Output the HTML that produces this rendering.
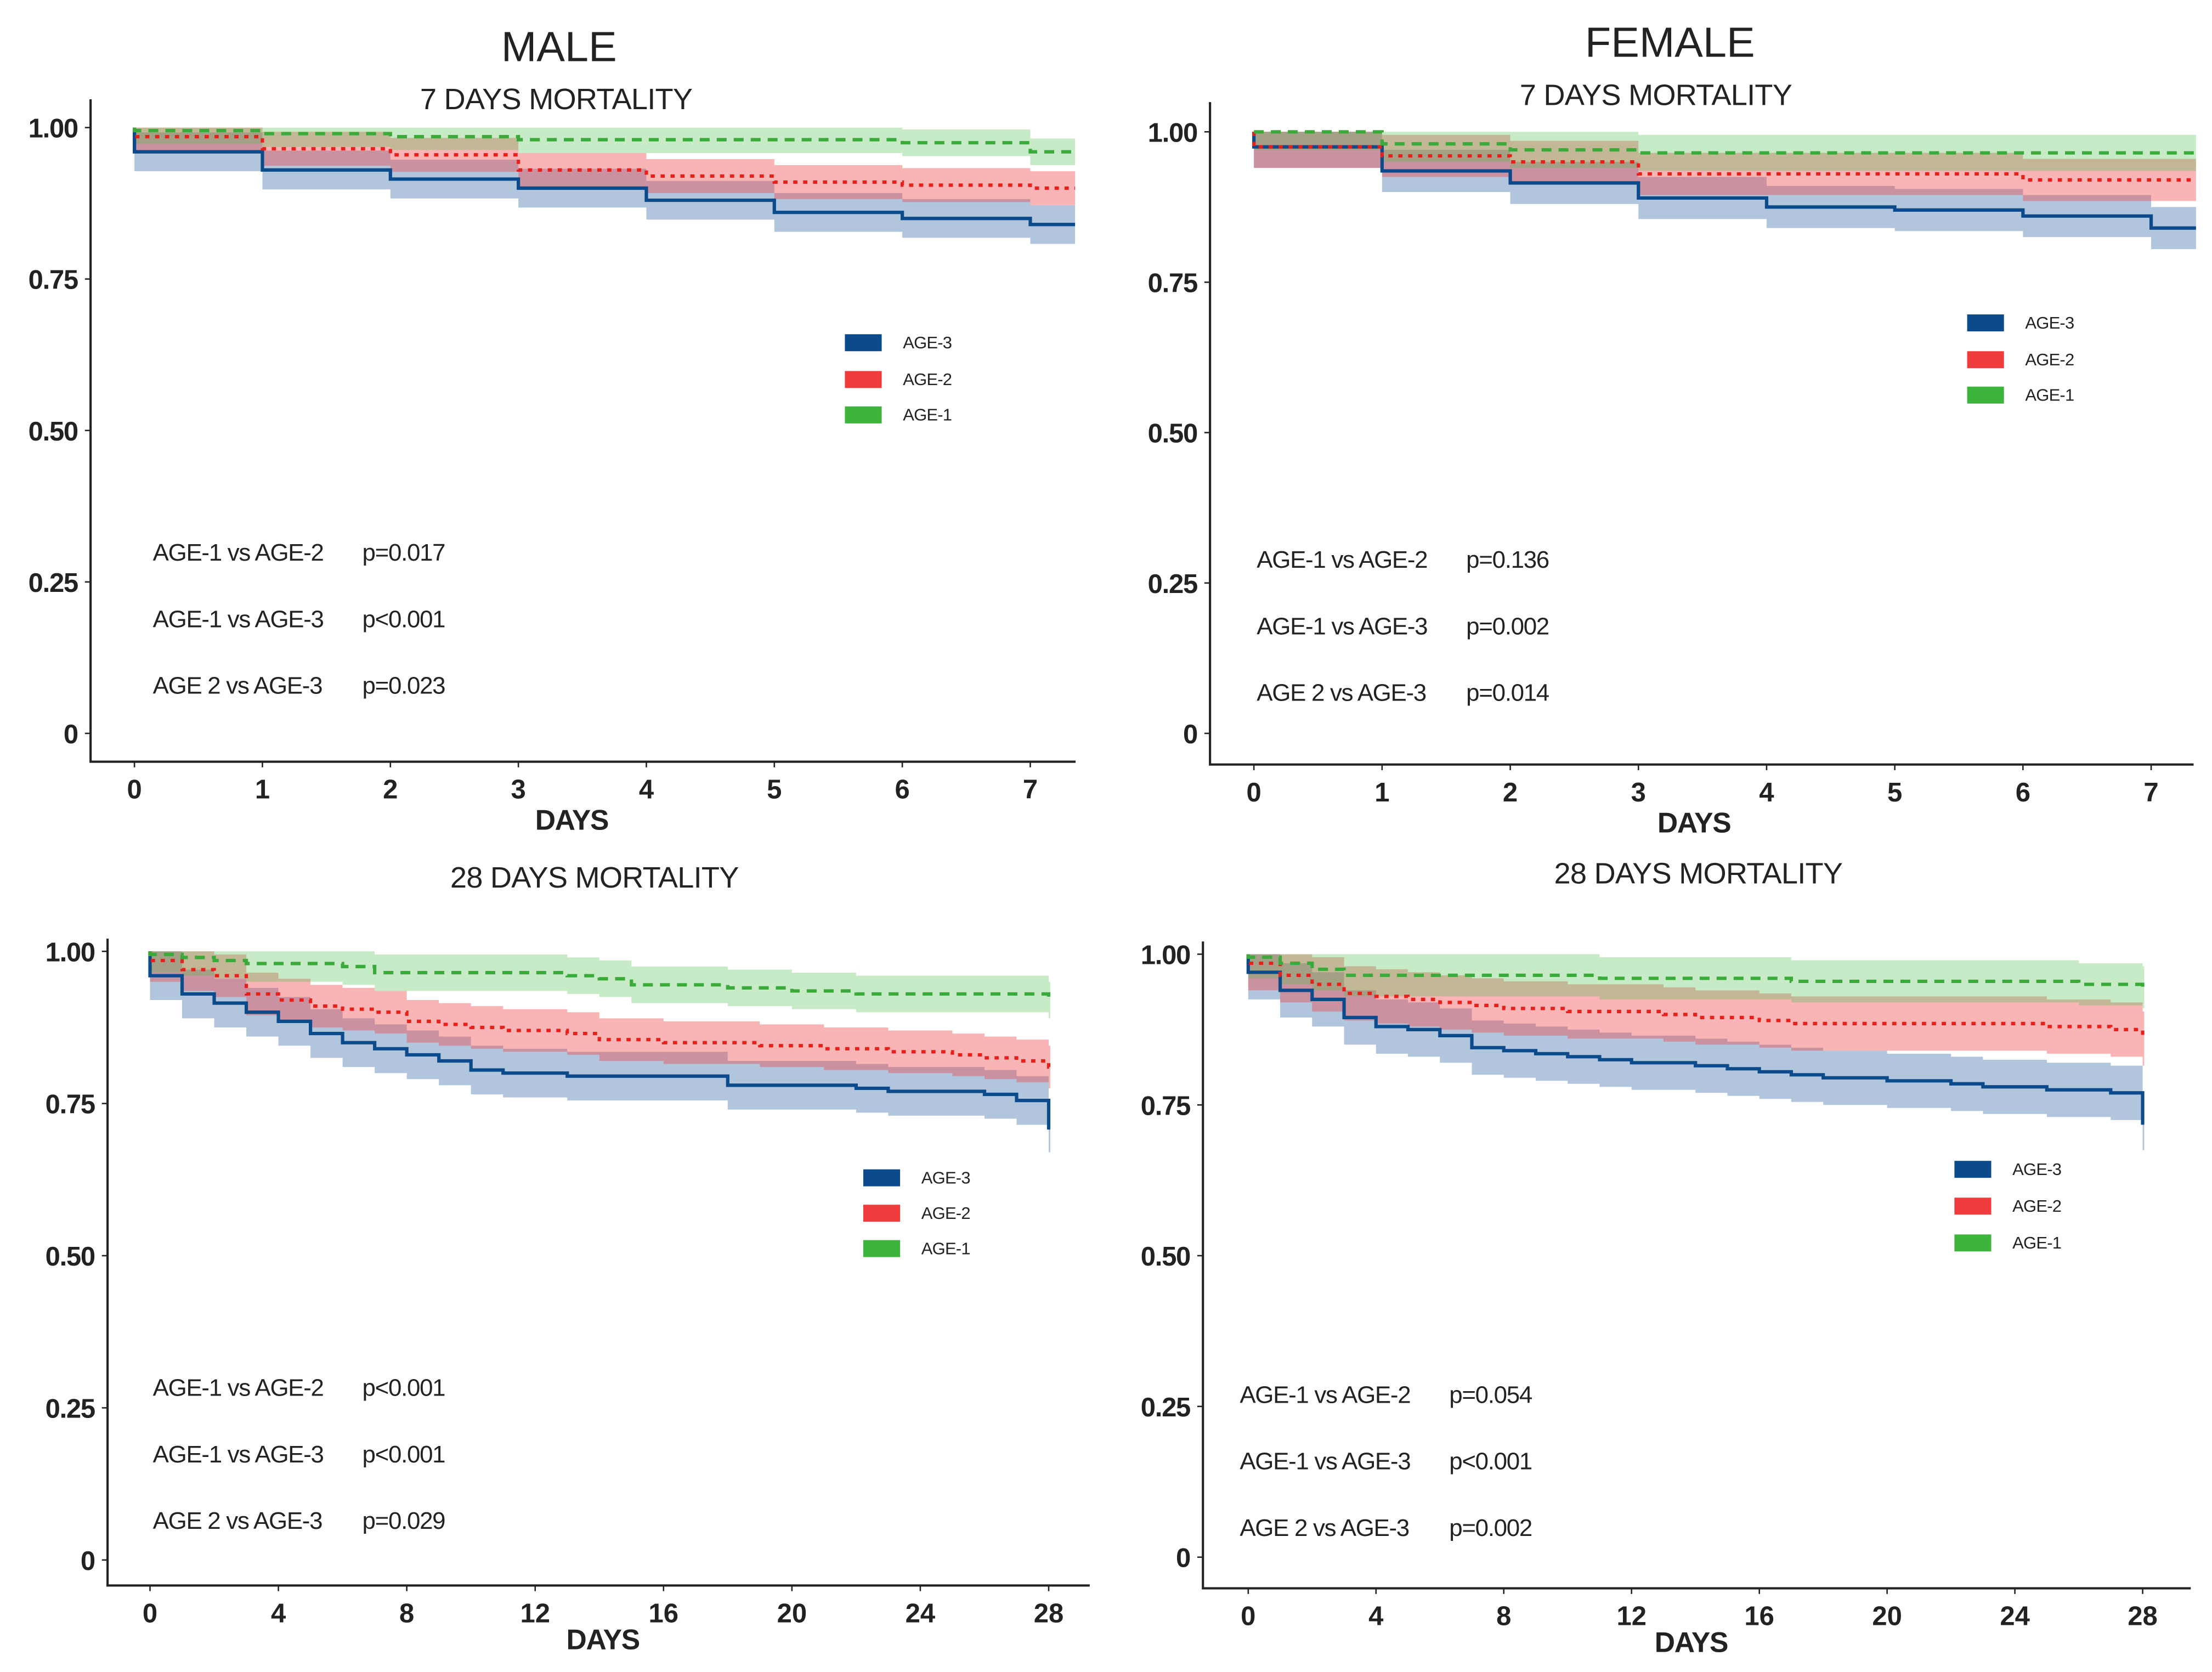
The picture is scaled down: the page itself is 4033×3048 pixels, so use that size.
<!DOCTYPE html>
<html><head><meta charset="utf-8"><style>
html,body{margin:0;padding:0;background:#fff}
svg{display:block}
text{font-family:"Liberation Sans Narrow","Liberation Sans",sans-serif;fill:#222}
</style></head><body>
<svg id="chart" width="4033" height="3048" viewBox="0 0 1563 1181" xmlns="http://www.w3.org/2000/svg">
<text x="395" y="43" font-size="30" text-anchor="middle" font-family="Liberation Sans">MALE</text>
<text x="1180" y="40" font-size="30" text-anchor="middle" font-family="Liberation Sans">FEMALE</text>
</svg>
<script>
// ---- data ----
const days7 = [0,1,2,3,4,5,6,7];
const days28 = [0,1,2,3,4,5,6,7,8,9,10,11,12,13,14,15,16,17,18,19,20,21,22,23,24,25,26,27,28];
const yTicks = [1.00,0.75,0.50,0.25,0];
const yTickLabels = ["1.00","0.75","0.50","0.25","0"];
const xTicks7 = [0,1,2,3,4,5,6,7];
const xTicks28 = [0,4,8,12,16,20,24,28];
const groups = ["AGE-3","AGE-2","AGE-1"];

const m7_age3 = [0.96,0.93,0.915,0.90,0.88,0.86,0.85,0.84];
const m7_age2 = [0.985,0.965,0.955,0.93,0.92,0.91,0.905,0.90];
const m7_age1 = [0.995,0.99,0.985,0.98,0.98,0.98,0.975,0.96];
const m7_ci = [0.032,0.028,0.022];

const f7_age3 = [0.975,0.935,0.915,0.89,0.875,0.87,0.86,0.84];
const f7_age2 = [0.975,0.96,0.95,0.93,0.93,0.93,0.92,0.92];
const f7_age1 = [1.0,0.98,0.97,0.965,0.965,0.965,0.965,0.965];
const f7_ci = [0.035,0.035,0.03];

const m28_age3 = [0.96,0.93,0.915,0.90,0.885,0.865,0.85,0.84,0.83,0.82,0.805,0.80,0.80,0.795,0.795,0.795,0.795,0.795,0.78,0.78,0.78,0.78,0.775,0.77,0.77,0.77,0.765,0.755,0.71];
const m28_age2 = [0.985,0.97,0.96,0.93,0.92,0.91,0.905,0.90,0.885,0.88,0.875,0.87,0.87,0.865,0.855,0.855,0.85,0.85,0.85,0.845,0.845,0.84,0.84,0.835,0.835,0.83,0.825,0.82,0.81];
const m28_age1 = [0.995,0.99,0.985,0.98,0.98,0.98,0.975,0.965,0.965,0.965,0.965,0.965,0.965,0.96,0.955,0.945,0.945,0.945,0.94,0.94,0.935,0.935,0.93,0.93,0.93,0.93,0.93,0.93,0.92];
const m28_ci = [0.04,0.035,0.03];

const f28_age3 = [0.97,0.94,0.925,0.895,0.88,0.875,0.865,0.845,0.84,0.835,0.83,0.825,0.82,0.82,0.815,0.81,0.805,0.80,0.795,0.795,0.79,0.79,0.785,0.78,0.78,0.775,0.775,0.77,0.72];
const f28_age2 = [0.985,0.965,0.95,0.935,0.93,0.925,0.92,0.915,0.91,0.91,0.905,0.905,0.905,0.90,0.895,0.895,0.89,0.885,0.885,0.885,0.885,0.885,0.885,0.885,0.885,0.88,0.88,0.875,0.86];
const f28_age1 = [0.995,0.985,0.975,0.965,0.965,0.965,0.965,0.965,0.965,0.965,0.965,0.96,0.96,0.96,0.96,0.96,0.96,0.955,0.955,0.955,0.955,0.955,0.955,0.955,0.955,0.955,0.95,0.95,0.945];
const f28_ci = [0.045,0.045,0.035];

const pm7 = ["p=0.017","p<0.001","p=0.023"];
const pf7 = ["p=0.136","p=0.002","p=0.014"];
const pm28 = ["p<0.001","p<0.001","p=0.029"];
const pf28 = ["p=0.054","p<0.001","p=0.002"];
const compLabels = ["AGE-1 vs AGE-2","AGE-1 vs AGE-3","AGE 2 vs AGE-3"];

// ---- drawing ----
const svg = document.getElementById('chart');
const NS = 'http://www.w3.org/2000/svg';
function mk(tag, attrs, parent){ const e=document.createElementNS(NS,tag); for(const k in attrs) e.setAttribute(k,attrs[k]); (parent||svg).appendChild(e); return e; }

const lineCol=['#0b4a8b','#e8201c','#3aaa3a'];
const bandCol=['rgba(60,110,170,0.40)','rgba(240,70,70,0.40)','rgba(80,190,80,0.32)'];
const legCol=['#0b4a8b','#ef3b3b','#3db53d'];
const dash=['none','3,4','7,5'];

function panel(cfg){
  const g=mk('g',{});
  
  
  const maxX=cfg.xt[cfg.xt.length-1];
  const sx=v=>cfg.x0+(cfg.x1-cfg.x0)*v/maxX;
  const sy=v=>cfg.y0-(cfg.y0-cfg.y1)*v;
  const T=cfg.t;
  const endX=i=>sx(i<T.length-1?T[i+1]:T[i]+cfg.ext);
  const t=mk('text',{x:cfg.tx,y:cfg.ty,'font-size':21,'text-anchor':'middle','letter-spacing':-0.3},g); t.textContent=cfg.title;
  
  
  const ax=mk('path',{d:`M${cfg.ax},${cfg.atop} V${cfg.ay} H${cfg.aright}`,stroke:'#222','stroke-width':1.6,fill:'none'},g);
  
  
  yTicks.forEach((v,i)=>{
    mk('line',{x1:cfg.ax-4,x2:cfg.ax,y1:sy(v),y2:sy(v),stroke:'#222','stroke-width':1},g);
    const l=mk('text',{x:cfg.ax-9,y:sy(v)+7,'font-size':19,'font-weight':'bold','text-anchor':'end','letter-spacing':-0.5},g);
    l.textContent=yTickLabels[i];
    
    
  });
  cfg.xt.forEach(v=>{
    mk('line',{x1:sx(v),x2:sx(v),y1:cfg.ay,y2:cfg.ay+4,stroke:'#222','stroke-width':1},g);
    const l=mk('text',{x:sx(v),y:cfg.ay+26,'font-size':19,'font-weight':'bold','text-anchor':'middle'},g);
    l.textContent=v;
    
    
  });
  const xl=mk('text',{x:cfg.dx,y:cfg.dy,'font-size':20,'font-weight':'bold','text-anchor':'middle','letter-spacing':-0.5},g);
  xl.textContent='DAYS';
  
  
  [0,1,2].forEach(si=>{
    const s=cfg.series[si], w=cfg.ci[si];
    let up='', lo='';
    for(let i=0;i<s.length;i++){
      const xa=sx(T[i]), xb=endX(i);
      up+=(i?'L':'M')+xa+','+sy(Math.min(1,s[i]+w))+' L'+xb+','+sy(Math.min(1,s[i]+w))+' ';
    }
    for(let i=s.length-1;i>=0;i--){
      const xa=sx(T[i]), xb=endX(i);
      lo+='L'+xb+','+sy(s[i]-w)+' L'+xa+','+sy(s[i]-w)+' ';
    }
    const b=mk('path',{d:up+lo+'Z',fill:bandCol[si],stroke:'none'},g);
    
    
  });
  [0,1,2].forEach(si=>{
    const s=cfg.series[si];
    let d='M'+sx(0)+','+sy(1);
    for(let i=0;i<s.length;i++){
      d+=' V'+sy(s[i])+' H'+endX(i);
    }
    const p=mk('path',{d:d,fill:'none',stroke:lineCol[si],'stroke-width':2.4,'stroke-dasharray':dash[si]},g);
    
    
  });
  groups.forEach((gname,i)=>{
    const yy=cfg.ly+cfg.lgap[i];
    const r=mk('rect',{x:cfg.lx,y:yy,width:26,height:12,fill:legCol[i]},g);
    
    
    const l=mk('text',{x:cfg.lx+41,y:yy+10,'font-size':12,'letter-spacing':-0.3},g);
    l.textContent=gname;
    
    
  });
  compLabels.forEach((c,i)=>{
    const l=mk('text',{x:cfg.px,y:cfg.py+47*i,'font-size':17,'letter-spacing':-0.5},g);
    l.textContent=c;
    
    
    const p=mk('text',{x:cfg.px+148,y:cfg.py+47*i,'font-size':17,'letter-spacing':-0.5},g);
    p.textContent=cfg.p[i];
    
    
  });
}

panel({name:'male-7-day-panel',title:'7 DAYS MORTALITY',tx:393,ty:77,ax:64,atop:70,ay:538,aright:760,x0:95,x1:728,y0:518,y1:90,ext:0.35,
  xt:xTicks7,t:days7,series:[m7_age3,m7_age2,m7_age1],ci:m7_ci,dx:404,dy:586,lx:597,ly:236,lgap:[0,26,51],px:108,py:396,p:pm7});
panel({name:'female-7-day-panel',title:'7 DAYS MORTALITY',tx:1170,ty:74,ax:855,atop:72,ay:540,aright:1550,x0:886,x1:1520,y0:518,y1:93,ext:0.35,
  xt:xTicks7,t:days7,series:[f7_age3,f7_age2,f7_age1],ci:f7_ci,dx:1197,dy:588,lx:1390,ly:222,lgap:[0,26,51],px:888,py:401,p:pf7});
panel({name:'male-28-day-panel',title:'28 DAYS MORTALITY',tx:420,ty:627,ax:76,atop:663,ay:1120,aright:770,x0:106,x1:741,y0:1102,y1:672,ext:0.05,
  xt:xTicks28,t:days28,series:[m28_age3,m28_age2,m28_age1],ci:m28_ci,dx:426,dy:1165,lx:610,ly:826,lgap:[0,25,50],px:108,py:986,p:pm28});
panel({name:'female-28-day-panel',title:'28 DAYS MORTALITY',tx:1200,ty:624,ax:850,atop:665,ay:1122,aright:1548,x0:882,x1:1514,y0:1100,y1:674,ext:0.05,
  xt:xTicks28,t:days28,series:[f28_age3,f28_age2,f28_age1],ci:f28_ci,dx:1195,dy:1167,lx:1381,ly:820,lgap:[0,26,52],px:876,py:991,p:pf28});
</script>
</body></html>
